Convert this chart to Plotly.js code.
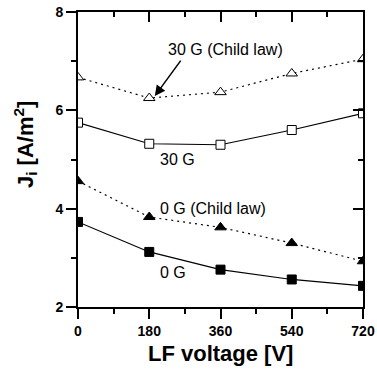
<!DOCTYPE html>
<html>
<head>
<meta charset="utf-8">
<script src="https://cdn.plot.ly/plotly-3.0.1.min.js"></script>
<style>html,body{margin:0;padding:0;background:#fff;}#chart{width:377px;height:371px;}</style>
</head>
<body>
<div id="chart"></div>
<script>
var lfVoltage = [0, 180, 360, 540, 720];
var child30G = [6.67, 6.25, 6.37, 6.75, 7.04];
var meas30G = [5.75, 5.32, 5.30, 5.60, 5.94];
var child0G = [4.56, 3.83, 3.62, 3.30, 2.93];
var meas0G = [3.73, 3.12, 2.76, 2.56, 2.43];
var xTicks = [0, 180, 360, 540, 720];
var yTicks = [2, 4, 6, 8];

var F = 'Liberation Sans, Arial, sans-serif';
var dotted = '2px,4px';

function trace(y, sym, fill, dash) {
  return {
    x: lfVoltage, y: y, type: 'scatter', mode: 'lines+markers',
    line: {color: '#000', width: 1.2, dash: dash},
    marker: {symbol: sym, size: sym === 'square' ? 9 : 10, color: fill, line: {color: '#000', width: 1}},
    showlegend: false, hoverinfo: 'skip'
  };
}

var data = [
  trace(child30G, 'triangle-up', '#fff', dotted),
  trace(meas30G, 'square', '#fff', 'solid'),
  trace(child0G, 'triangle-up', '#000', dotted),
  trace(meas0G, 'square', '#000', 'solid'),
  {x: [null], y: [null], xaxis: 'x2', yaxis: 'y2', type: 'scatter', mode: 'markers', showlegend: false, hoverinfo: 'skip'}
];

var axBase = {
  showline: true, linewidth: 2, linecolor: '#000', showgrid: false, zeroline: false,
  tickwidth: 2, tickcolor: '#000', ticklen: 10
};

var layout = {
  width: 377, height: 371,
  margin: {l: 78, r: 14, t: 12, b: 64},
  paper_bgcolor: '#fff', plot_bgcolor: '#fff',
  font: {family: F, color: '#000'},
  xaxis: Object.assign({}, axBase, {
    range: [0, 720], tickvals: xTicks, ticktext: xTicks.map(function (v) { return '<b>' + v + '</b>'; }), ticks: 'outside',
    tickfont: {family: F, size: 14, weight: 'bold'},
    minor: {dtick: 90, tick0: 0, ticks: 'outside', ticklen: 5, tickwidth: 2, tickcolor: '#000'}
  }),
  yaxis: Object.assign({}, axBase, {
    range: [2, 8], tickvals: yTicks, ticktext: yTicks.map(function (v) { return '<b>' + v + '</b>'; }), ticks: 'outside',
    tickfont: {family: F, size: 14, weight: 'bold'},
    minor: {dtick: 1, tick0: 0, ticks: 'outside', ticklen: 5, tickwidth: 2, tickcolor: '#000'}
  }),
  xaxis2: Object.assign({}, axBase, {
    overlaying: 'x', side: 'top', anchor: 'y', range: [0, 720], tickvals: xTicks, ticks: 'inside',
    showticklabels: false,
    minor: {dtick: 90, tick0: 0, ticks: 'inside', ticklen: 5, tickwidth: 2, tickcolor: '#000'}
  }),
  yaxis2: Object.assign({}, axBase, {
    overlaying: 'y', side: 'right', anchor: 'x', range: [2, 8], tickvals: yTicks, ticks: 'inside',
    showticklabels: false,
    minor: {dtick: 1, tick0: 0, ticks: 'inside', ticklen: 5, tickwidth: 2, tickcolor: '#000'}
  }),
  annotations: [
    {xref: 'paper', yref: 'paper', x: 0.5, y: -0.157, xanchor: 'center', yanchor: 'middle',
     text: '<b>LF voltage [V]</b>', showarrow: false, font: {family: F, size: 22, weight: 'bold'}},
    {xref: 'paper', yref: 'paper', x: -0.185, y: 0.55, xanchor: 'center', yanchor: 'middle',
     text: '<b>J<sub>i</sub> [A/m<sup>2</sup>]</b>', textangle: -90, showarrow: false,
     font: {family: F, size: 22, weight: 'bold'}},
    {x: 222, y: 7.235, xanchor: 'left', yanchor: 'middle', text: '30 G (Child law)', showarrow: false,
     font: {family: F, size: 16}},
    {x: 203, y: 4.99, xanchor: 'left', yanchor: 'middle', text: '30 G', showarrow: false,
     font: {family: F, size: 16}},
    {x: 203, y: 4.01, xanchor: 'left', yanchor: 'middle', text: '0 G (Child law)', showarrow: false,
     font: {family: F, size: 16}},
    {x: 203, y: 2.71, xanchor: 'left', yanchor: 'middle', text: '0 G', showarrow: false,
     font: {family: F, size: 16}},
    {x: 194, y: 6.29, text: '', showarrow: true, ax: 27, ay: -37, arrowhead: 2, arrowsize: 1.4,
     arrowwidth: 1.5, arrowcolor: '#000', standoff: 0}
  ]
};

Plotly.newPlot('chart', data, layout, {staticPlot: true, displayModeBar: false});
</script>
</body>
</html>
